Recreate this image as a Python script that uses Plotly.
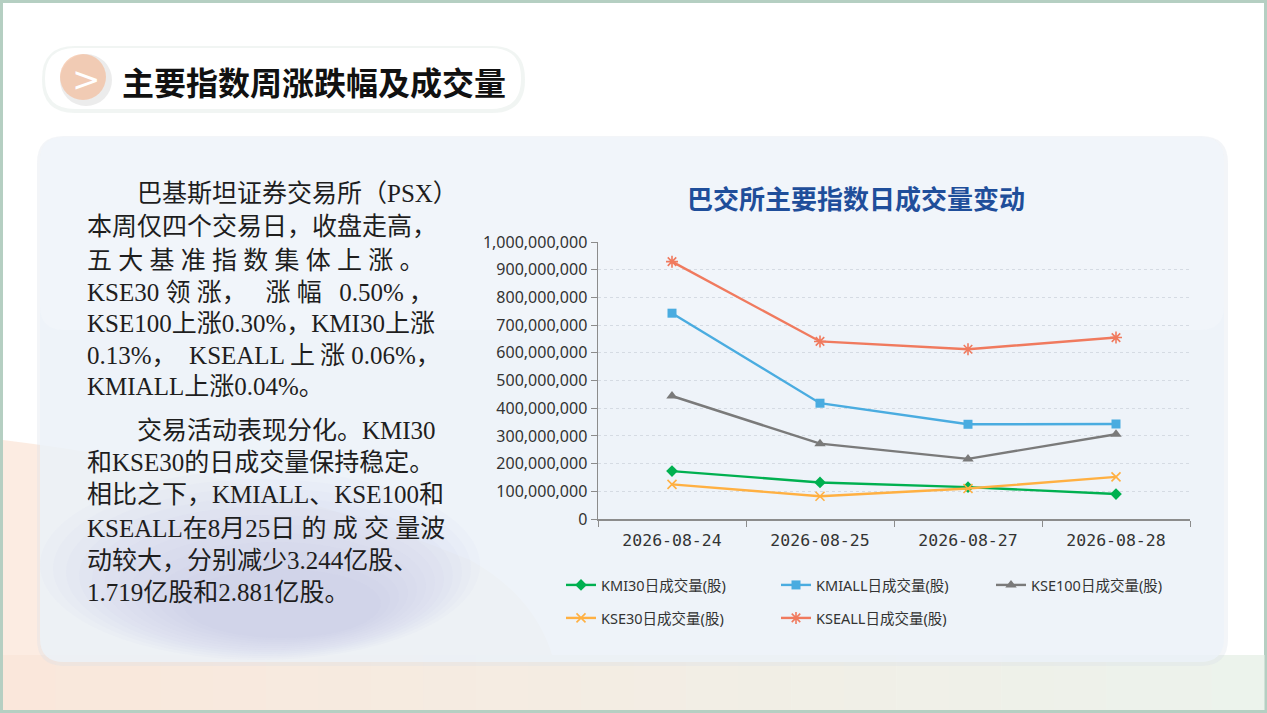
import plotly.graph_objects as go

W, H = 1267, 713

# ---------------- data ----------------
dates = ["2026-08-24", "2026-08-25", "2026-08-27", "2026-08-28"]
kmi30 = [173000000, 132000000, 115000000, 90000000]
kmiall = [743000000, 418000000, 342000000, 343000000]
kse100 = [444000000, 272000000, 217000000, 306000000]
kse30 = [125000000, 82000000, 110000000, 152000000]
kseall = [929000000, 641000000, 613000000, 655000000]
y_ticks = [0, 100000000, 200000000, 300000000, 400000000, 500000000,
           600000000, 700000000, 800000000, 900000000, 1000000000]
y_tick_text = ["0", "100,000,000", "200,000,000", "300,000,000", "400,000,000",
               "500,000,000", "600,000,000", "700,000,000", "800,000,000",
               "900,000,000", "1,000,000,000"]

series = [
    ("KMI30日成交量(股)", kmi30, "#00b050", "diamond", 9, "legend"),
    ("KMIALL日成交量(股)", kmiall, "#4aace0", "square", 9, "legend"),
    ("KSE100日成交量(股)", kse100, "#7a7a7a", "triangle-up", 10, "legend"),
    ("KSE30日成交量(股)", kse30, "#ffb042", "x-thin", 9, "legend2"),
    ("KSEALL日成交量(股)", kseall, "#f07a5e", "asterisk", 10, "legend2"),
]

# paragraph text lines; a few lines carry extra Unicode spaces to mimic justification
S6 = "\u2005"   # quarter-em space
S5 = "\u2009"   # thin space
S12 = "\u2002"  # en space
para1 = [
    "\u3000\u3000巴基斯坦证券交易所（PSX）",
    "本周仅四个交易日，收盘走高，",
    S6.join("五大基准指数集体上涨。"),
    "KSE30" + S6 + "领" + S6 + "涨，" + S12 + S6 + "涨" + S6 + "幅" + S12 + S5 + "0.50%" + S5 + "，",
    "KSE100上涨0.30%，KMI30上涨",
    "0.13%，" + S12 + "KSEALL" + S5 + "上" + S5 + "涨" + S6 + "0.06%，",
    "KMIALL上涨0.04%。",
]
para2 = [
    "\u3000\u3000交易活动表现分化。KMI30",
    "和KSE30的日成交量保持稳定。",
    "相比之下，KMIALL、KSE100和",
    "KSEALL在8月25日" + S6 + "的" + S6 + "成" + S6 + "交" + S6 + "量波",
    "动较大，分别减少3.244亿股、",
    "1.719亿股和2.881亿股。",
]
para1_y = [193, 226, 260, 292, 323, 355, 387]
para2_y = [430, 463, 495, 528, 560, 592]


def X(px):
    return px / W


def Y(py):
    return 1 - py / H


def rrect(x0, y0, x1, y1, r):
    p = [
        f"M {X(x0 + r)},{Y(y0)}",
        f"L {X(x1 - r)},{Y(y0)}",
        f"Q {X(x1)},{Y(y0)} {X(x1)},{Y(y0 + r)}",
        f"L {X(x1)},{Y(y1 - r)}",
        f"Q {X(x1)},{Y(y1)} {X(x1 - r)},{Y(y1)}",
        f"L {X(x0 + r)},{Y(y1)}",
        f"Q {X(x0)},{Y(y1)} {X(x0)},{Y(y1 - r)}",
        f"L {X(x0)},{Y(y0 + r)}",
        f"Q {X(x0)},{Y(y0)} {X(x0 + r)},{Y(y0)}",
        "Z",
    ]
    return " ".join(p)


fig = go.Figure()
for name, vals, col, sym, sz, lg in series:
    lw = 1.6 if sym in ("x-thin", "asterisk") else 0
    fig.add_trace(go.Scatter(
        x=dates, y=vals, name=name, mode="lines+markers",
        line=dict(color=col, width=2.4),
        marker=dict(symbol=sym, size=sz, color=col, line=dict(color=col, width=lw)),
        legend=lg,
    ))

shapes = []
# outer frame
shapes.append(dict(type="rect", xref="paper", yref="paper", x0=X(1.5), y0=Y(711.5), x1=X(1265.5), y1=Y(1.5),
                   fillcolor="#ffffff", line=dict(color="#b5cfc2", width=3), layer="below"))
# peach area lower-left
shapes.append(dict(type="path", xref="paper", yref="paper",
                   path=f"M {X(3)},{Y(440)} Q {X(250)},{Y(470)} {X(470)},{Y(560)} Q {X(560)},{Y(610)} {X(560)},{Y(710)} L {X(3)},{Y(710)} Z",
                   fillcolor="rgba(251,228,214,0.70)", line=dict(width=0), layer="below"))
# bottom strip, fading from peach (left) to pale green (right)
n_strip = 24
for i in range(n_strip):
    t = i / (n_strip - 1)
    r = round(250 + (236 - 250) * t)
    g = round(231 + (243 - 231) * t)
    b = round(219 + (236 - 219) * t)
    x0 = 3 + i * (1261 / n_strip)
    shapes.append(dict(type="rect", xref="paper", yref="paper", x0=X(x0), y0=Y(710),
                       x1=X(x0 + 1261 / n_strip + 0.5), y1=Y(655),
                       fillcolor=f"rgb({r},{g},{b})", line=dict(width=0), layer="below"))
# panel shadow + panel
shapes.append(dict(type="path", xref="paper", yref="paper", path=rrect(37, 136, 1228, 666, 27),
                   fillcolor="rgba(215,222,232,0.30)", line=dict(width=0), layer="below"))
shapes.append(dict(type="path", xref="paper", yref="paper", path=rrect(40, 137, 1224, 662, 24),
                   fillcolor="rgba(236,242,249,0.80)", line=dict(width=0), layer="below"))
# lighter top of panel
shapes.append(dict(type="path", xref="paper", yref="paper", path=rrect(40, 137, 1224, 330, 24),
                   fillcolor="rgba(246,249,252,0.35)", line=dict(width=0), layer="below"))
# soft lavender blur behind lower text
for k in range(12):
    ax = 40 + k * 13
    bx = 480 - k * 9
    ay = 470 + k * 9
    by = 660 - k * 2
    shapes.append(dict(type="circle", xref="paper", yref="paper", x0=X(ax), y0=Y(by), x1=X(bx), y1=Y(ay),
                       fillcolor="rgba(160,160,215,0.035)", line=dict(width=0), layer="below"))
# title pill
shapes.append(dict(type="path", xref="paper", yref="paper", path=rrect(42, 46, 525, 113, 33),
                   fillcolor="rgba(225,232,229,0.45)", line=dict(width=0), layer="below"))
shapes.append(dict(type="path", xref="paper", yref="paper", path=rrect(45, 48, 521, 109, 30),
                   fillcolor="#ffffff", line=dict(width=0), layer="below"))
# icon
shapes.append(dict(type="circle", xref="paper", yref="paper", x0=X(60), y0=Y(106), x1=X(112), y1=Y(54),
                   fillcolor="rgba(236,236,236,1)", line=dict(width=0), layer="below"))
shapes.append(dict(type="circle", xref="paper", yref="paper", x0=X(60), y0=Y(100), x1=X(106), y1=Y(54),
                   fillcolor="rgba(244,186,150,0.65)", line=dict(width=0), layer="below"))
fig.update_layout(shapes=shapes)

annotations = []
annotations.append(dict(xref="paper", yref="paper", x=X(86), y=Y(79), text=">", showarrow=False,
                        font=dict(family="DejaVu Sans", size=34, color="#ffffff"), xanchor="center", yanchor="middle"))
annotations.append(dict(xref="paper", yref="paper", x=X(120), y=Y(81), text="<b>主要指数周涨跌幅及成交量</b>",
                        showarrow=False, font=dict(family="Noto Sans CJK SC", size=32, color="#111111"),
                        xanchor="left", yanchor="middle"))
annotations.append(dict(xref="paper", yref="paper", x=X(856), y=Y(198), text="<b>巴交所主要指数日成交量变动</b>",
                        showarrow=False, font=dict(family="Noto Sans CJK SC", size=26, color="#1f4e9a"),
                        xanchor="center", yanchor="middle"))

body_font = dict(family="Liberation Serif, Noto Sans CJK SC", size=25, color="#1e1e1e")
for lines, ys in ((para1, para1_y), (para2, para2_y)):
    for t, yy in zip(lines, ys):
        annotations.append(dict(xref="paper", yref="paper", x=X(85), y=Y(yy), text=t,
                                showarrow=False, font=body_font, xanchor="left", yanchor="middle",
                                align="left"))
fig.update_layout(annotations=annotations)

legend_font = dict(family="Noto Sans, Noto Sans CJK SC", size=14.5, color="#333333")
fig.update_layout(
    width=W, height=H,
    margin=dict(l=0, r=0, t=0, b=0, autoexpand=False),
    paper_bgcolor="#ffffff",
    plot_bgcolor="rgba(0,0,0,0)",
    xaxis=dict(domain=[X(598), X(1190)], type="category", range=[-0.5, 3.5], tickson="boundaries",
               ticks="outside", ticklen=6, tickcolor="#8c8c8c",
               showline=True, linecolor="#8c8c8c", linewidth=1.5, showgrid=False,
               tickfont=dict(family="DejaVu Sans Mono", size=16.5, color="#333333"),
               ticklabelstandoff=6, fixedrange=True),
    yaxis=dict(domain=[Y(519), Y(242)], range=[0, 1000000000], tickvals=y_ticks, ticktext=y_tick_text,
               ticks="outside", ticklen=6, tickcolor="#8c8c8c",
               showline=True, linecolor="#8c8c8c", linewidth=1.5,
               showgrid=True, gridcolor="#d5dbe3", griddash="dot", gridwidth=1,
               zeroline=False,
               tickfont=dict(family="Noto Sans", size=16, color="#333333"), fixedrange=True),
    legend=dict(orientation="h", x=X(561), y=Y(585), xanchor="left", yanchor="middle",
                entrywidth=170, entrywidthmode="pixels", bgcolor="rgba(0,0,0,0)",
                font=legend_font, itemclick=False, itemdoubleclick=False),
    legend2=dict(orientation="h", x=X(561), y=Y(618), xanchor="left", yanchor="middle",
                 entrywidth=170, entrywidthmode="pixels", bgcolor="rgba(0,0,0,0)",
                 font=legend_font, itemclick=False, itemdoubleclick=False),
    showlegend=True,
)

fig.write_html("out.html", include_plotlyjs=True,
               config=dict(displayModeBar=False, staticPlot=True),
               post_script="document.body.style.margin='0';document.body.style.overflow='hidden';")
